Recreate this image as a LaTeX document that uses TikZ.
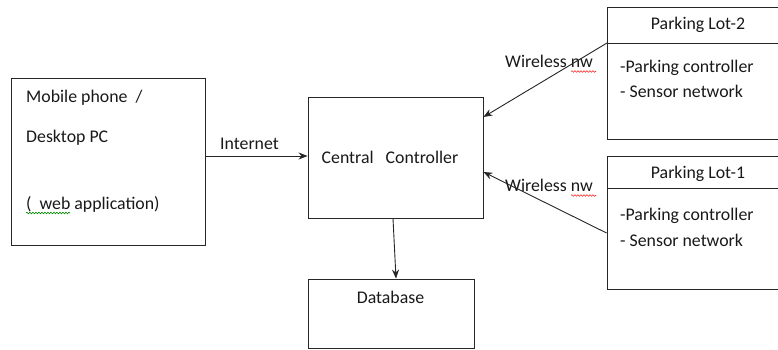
\documentclass[tikz,border=0pt]{standalone}
\usepackage{fontspec}
\setmainfont{Carlito}
\usetikzlibrary{arrows.meta,decorations.pathmorphing}
\begin{document}
\begin{tikzpicture}[x=1pt,y=-1pt,
  box/.style={draw=black!85,line width=0.9pt,rectangle,inner sep=0pt},
  lbl/.style={inner sep=0pt,font=\fontsize{17.8}{20}\selectfont,text=black!90},
  arr/.style={draw=black!85,line width=0.9pt,-{Stealth[length=9pt,width=7pt]}},
  squig/.style={line width=0.6pt,decorate,decoration={snake,amplitude=0.8pt,segment length=3pt}}]
\clip (0,0) rectangle (778,350);
\fill[white] (0,0) rectangle (778,350);
% boxes
\node[box,minimum width=194pt,minimum height=167pt] (mob) at (108.5,161.5) {};
\node[box,minimum width=175pt,minimum height=121pt] (cc) at (395.5,157.5) {};
\node[box,minimum width=166pt,minimum height=69pt] (db) at (391,313.5) {};
\node[box,minimum width=183pt,minimum height=132pt] (lot2) at (698.5,73) {};
\node[box,minimum width=183pt,minimum height=133pt] (lot1) at (698.5,222.5) {};
\coordinate (d2) at (607,43);
\coordinate (d1) at (607,188);
\draw[black!85,line width=0.9pt] (d2) -- (d2 -| lot2.east);
\draw[black!85,line width=0.9pt] (d1) -- (d1 -| lot1.east);
% texts
\node[lbl,anchor=west] (m1) at (26,98) {Mobile phone~~/};
\node[lbl,anchor=west] (m2) at (26,138) {Desktop PC};
\node[lbl,anchor=west] (m3) at (26,204) {(~~web application)};
\node[lbl] (ccl) at (390,157) {Central~~~Controller};
\node[lbl] (dbl) at (390.5,297) {Database};
\node[lbl] (h2) at (698,25) {Parking Lot-2};
\node[lbl,anchor=west] (p2a) at (620,68) {-Parking controller};
\node[lbl,anchor=west] (p2b) at (620,91) {- Sensor network};
\node[lbl] (h1) at (698,174) {Parking Lot-1};
\node[lbl,anchor=west] (p1a) at (620,216) {-Parking controller};
\node[lbl,anchor=west] (p1b) at (620,240) {- Sensor network};
\node[lbl] (inet) at (249.5,144) {Internet};
\node[lbl] (w2) at (549,61) {Wireless nw};
\node[lbl] (w1) at (549,185) {Wireless nw};
% connectors
\draw[arr] (mob.east |- 0,156) -- (cc.west |- 0,156);
\draw[arr] (d2) -- (cc.east |- 0,117);
\draw[arr] (lot1.west |- 0,233) -- (cc.east |- 0,172);
\draw[arr] ([xshift=-2.5pt]cc.south) -- ([xshift=5pt]db.north);
% spell-check underlines
\draw[squig,red!85] (571,71.5) -- (596,71.5);
\draw[squig,red!85] (571,195.5) -- (596,195.5);
\draw[squig,green!55!black] (26,213) -- (70,213);
\end{tikzpicture}
\end{document}
